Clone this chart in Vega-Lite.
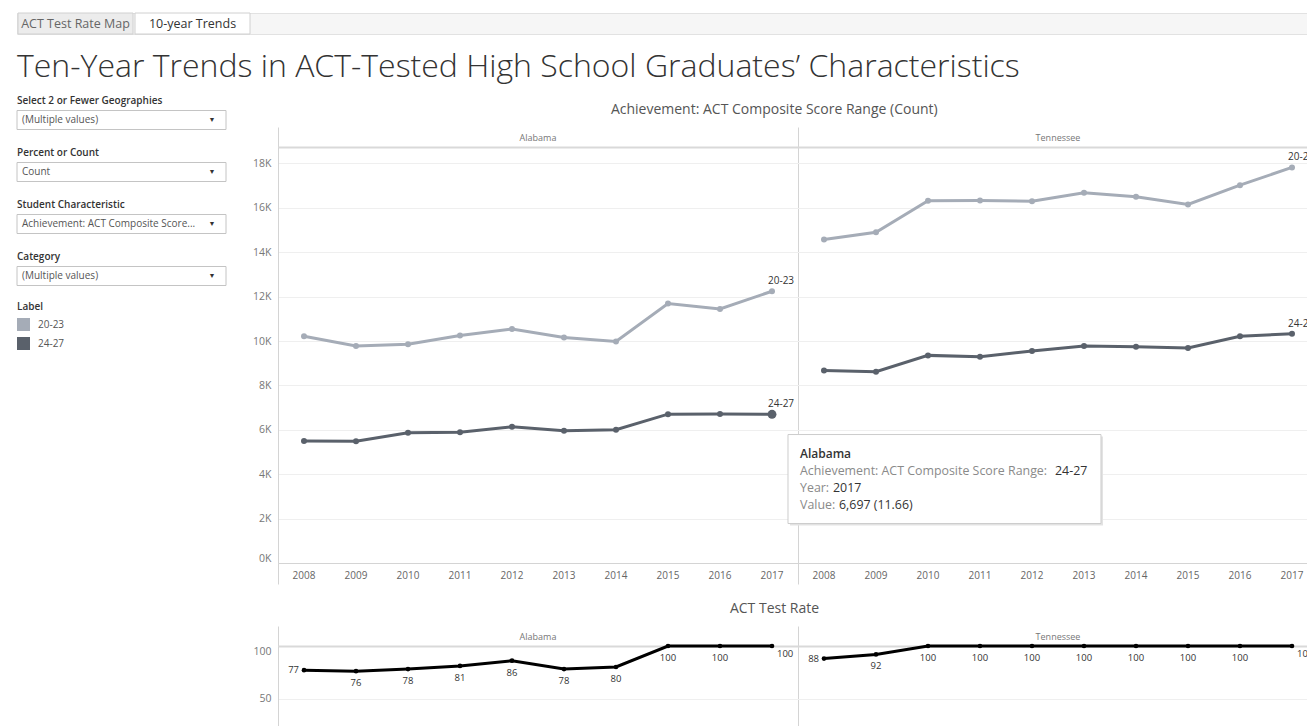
{
  "$schema": "https://vega.github.io/schema/vega-lite/v6.json",
  "background": "white",
  "padding": {"left": 16, "top": 12, "right": 0, "bottom": 0},
  "config": {
    "font": "Open Sans",
    "view": {"stroke": null}
  },
  "datasets": {
    "tabs": [{"tab": "ACT Test Rate Map"}, {"tab": "10-year Trends"}],
    "controls": [
      {"name": "Select 2 or Fewer Geographies", "value": "(Multiple values)"},
      {"name": "Percent or Count", "value": "Count"},
      {"name": "Student Characteristic", "value": "Achievement: ACT Composite Score..."},
      {"name": "Category", "value": "(Multiple values)"}
    ],
    "counts": [
      {"state": "Alabama", "year": 2008, "label": "20-23", "value": 10215},
      {"state": "Alabama", "year": 2009, "label": "20-23", "value": 9780},
      {"state": "Alabama", "year": 2010, "label": "20-23", "value": 9855},
      {"state": "Alabama", "year": 2011, "label": "20-23", "value": 10245},
      {"state": "Alabama", "year": 2012, "label": "20-23", "value": 10545},
      {"state": "Alabama", "year": 2013, "label": "20-23", "value": 10155},
      {"state": "Alabama", "year": 2014, "label": "20-23", "value": 9975},
      {"state": "Alabama", "year": 2015, "label": "20-23", "value": 11685},
      {"state": "Alabama", "year": 2016, "label": "20-23", "value": 11445},
      {"state": "Alabama", "year": 2017, "label": "20-23", "value": 12240},
      {"state": "Alabama", "year": 2008, "label": "24-27", "value": 5496},
      {"state": "Alabama", "year": 2009, "label": "24-27", "value": 5482},
      {"state": "Alabama", "year": 2010, "label": "24-27", "value": 5865},
      {"state": "Alabama", "year": 2011, "label": "24-27", "value": 5895},
      {"state": "Alabama", "year": 2012, "label": "24-27", "value": 6135},
      {"state": "Alabama", "year": 2013, "label": "24-27", "value": 5955},
      {"state": "Alabama", "year": 2014, "label": "24-27", "value": 6000},
      {"state": "Alabama", "year": 2015, "label": "24-27", "value": 6705},
      {"state": "Alabama", "year": 2016, "label": "24-27", "value": 6710},
      {"state": "Alabama", "year": 2017, "label": "24-27", "value": 6697},
      {"state": "Tennessee", "year": 2008, "label": "20-23", "value": 14571},
      {"state": "Tennessee", "year": 2009, "label": "20-23", "value": 14902},
      {"state": "Tennessee", "year": 2010, "label": "20-23", "value": 16316},
      {"state": "Tennessee", "year": 2011, "label": "20-23", "value": 16330},
      {"state": "Tennessee", "year": 2012, "label": "20-23", "value": 16300},
      {"state": "Tennessee", "year": 2013, "label": "20-23", "value": 16676},
      {"state": "Tennessee", "year": 2014, "label": "20-23", "value": 16496},
      {"state": "Tennessee", "year": 2015, "label": "20-23", "value": 16150},
      {"state": "Tennessee", "year": 2016, "label": "20-23", "value": 17022},
      {"state": "Tennessee", "year": 2017, "label": "20-23", "value": 17820},
      {"state": "Tennessee", "year": 2008, "label": "24-27", "value": 8676},
      {"state": "Tennessee", "year": 2009, "label": "24-27", "value": 8616},
      {"state": "Tennessee", "year": 2010, "label": "24-27", "value": 9353},
      {"state": "Tennessee", "year": 2011, "label": "24-27", "value": 9293},
      {"state": "Tennessee", "year": 2012, "label": "24-27", "value": 9549},
      {"state": "Tennessee", "year": 2013, "label": "24-27", "value": 9774},
      {"state": "Tennessee", "year": 2014, "label": "24-27", "value": 9744},
      {"state": "Tennessee", "year": 2015, "label": "24-27", "value": 9684},
      {"state": "Tennessee", "year": 2016, "label": "24-27", "value": 10211},
      {"state": "Tennessee", "year": 2017, "label": "24-27", "value": 10331}
    ],
    "rate": [
      {"state": "Alabama", "year": 2008, "rate": 77},
      {"state": "Alabama", "year": 2009, "rate": 76},
      {"state": "Alabama", "year": 2010, "rate": 78},
      {"state": "Alabama", "year": 2011, "rate": 81},
      {"state": "Alabama", "year": 2012, "rate": 86},
      {"state": "Alabama", "year": 2013, "rate": 78},
      {"state": "Alabama", "year": 2014, "rate": 80},
      {"state": "Alabama", "year": 2015, "rate": 100},
      {"state": "Alabama", "year": 2016, "rate": 100},
      {"state": "Alabama", "year": 2017, "rate": 100},
      {"state": "Tennessee", "year": 2008, "rate": 88},
      {"state": "Tennessee", "year": 2009, "rate": 92},
      {"state": "Tennessee", "year": 2010, "rate": 100},
      {"state": "Tennessee", "year": 2011, "rate": 100},
      {"state": "Tennessee", "year": 2012, "rate": 100},
      {"state": "Tennessee", "year": 2013, "rate": 100},
      {"state": "Tennessee", "year": 2014, "rate": 100},
      {"state": "Tennessee", "year": 2015, "rate": 100},
      {"state": "Tennessee", "year": 2016, "rate": 100},
      {"state": "Tennessee", "year": 2017, "rate": 100}
    ],
    "tip": [
      {"state": "Alabama", "year": 2017, "label": "24-27", "value": 6697, "valueText": "6,697 (11.66)"}
    ]
  },
  "spacing": 15,
  "vconcat": [
    {
      "data": {"name": "tabs"},
      "width": 1291,
      "height": 21,
      "view": {"fill": "#f6f6f6", "stroke": "#e2e2e2"},
      "encoding": {
        "x": {"field": "tab", "type": "nominal", "sort": null, "axis": null,
              "scale": {"type": "band", "range": [1, 233], "paddingInner": 0.0172, "paddingOuter": 0}}
      },
      "layer": [
        {
          "mark": {"type": "rect", "stroke": "#d0d0d0", "strokeWidth": 1},
          "encoding": {
            "fill": {"condition": {"test": "datum.tab === '10-year Trends'", "value": "#ffffff"}, "value": "#ececec"}
          }
        },
        {
          "mark": {"type": "text", "fontSize": 12.5},
          "encoding": {
            "text": {"field": "tab"},
            "color": {"condition": {"test": "datum.tab === '10-year Trends'", "value": "#333333"}, "value": "#666666"}
          }
        }
      ]
    },
    {
      "title": {"text": "Ten-Year Trends in ACT-Tested High School Graduates’ Characteristics", "anchor": "start", "fontSize": 32, "fontWeight": 300, "color": "#333333", "offset": 12.5, "frame": "group"},
      "spacing": 25,
      "hconcat": [
        {
          "width": 209,
          "height": 208,
          "layer": [
            {
              "data": {"name": "controls"},
              "mark": {"type": "bar", "fill": "#ffffff", "stroke": "#c4c4c4", "strokeWidth": 1, "height": {"band": 0.365}, "yOffset": -53},
              "encoding": {
                "y": {"field": "name", "type": "nominal", "sort": null, "axis": null,
                      "scale": {"type": "band", "paddingInner": 0, "paddingOuter": 0}},
                "x": {"datum": 0, "type": "quantitative", "axis": null, "scale": {"domain": [0, 1], "nice": false, "zero": false}},
                "x2": {"datum": 1}
              }
            },
            {
              "data": {"name": "controls"},
              "mark": {"type": "text", "align": "left", "baseline": "top", "dy": -51, "fontSize": 10, "fontWeight": 600, "color": "#333333"},
              "encoding": {
                "y": {"field": "name", "type": "nominal", "sort": null, "axis": null, "bandPosition": 0},
                "x": {"datum": 0, "type": "quantitative", "axis": null},
                "text": {"field": "name"}
              }
            },
            {
              "data": {"name": "controls"},
              "mark": {"type": "text", "align": "left", "baseline": "middle", "dx": 5, "dy": -53, "fontSize": 10, "color": "#555555"},
              "encoding": {
                "y": {"field": "name", "type": "nominal", "sort": null, "axis": null},
                "x": {"datum": 0, "type": "quantitative", "axis": null},
                "text": {"field": "value"}
              }
            },
            {
              "data": {"name": "controls"},
              "mark": {"type": "text", "align": "center", "baseline": "middle", "dx": -14, "dy": -53, "fontSize": 7, "color": "#333333", "text": "▼"},
              "encoding": {
                "y": {"field": "name", "type": "nominal", "sort": null, "axis": null},
                "x": {"datum": 1, "type": "quantitative", "axis": null}
              }
            },
            {
              "data": {"name": "counts"},
              "mark": {"type": "square", "opacity": 0},
              "encoding": {
                "color": {"field": "label", "type": "nominal",
                  "scale": {"domain": ["20-23", "24-27"], "range": ["#a5acb7", "#5a616b"]},
                  "legend": {"title": "Label", "orient": "none", "legendX": 0, "legendY": 289,
                    "symbolType": "square", "symbolSize": 169, "symbolOpacity": 1, "symbolStrokeWidth": 0,
                    "titleFontSize": 10, "titleFontWeight": 600, "titleColor": "#333333", "titlePadding": 6,
                    "labelFontSize": 10, "labelColor": "#555555", "labelOffset": 8, "rowPadding": 6, "padding": 0}}
              }
            }
          ]
        },
        {
          "spacing": 16,
          "vconcat": [
            {
              "title": {"text": "Achievement: ACT Composite Score Range (Count)", "fontSize": 14, "fontWeight": "normal", "color": "#555555", "anchor": "middle", "frame": "bounds", "offset": 10, "dx": -11},
              "width": 1040,
              "height": 416,
              "resolve": {"axis": {"x": "independent"}},
              "layer": [
                {
                  "data": {"name": "counts"},
                  "mark": {"type": "line", "strokeWidth": 3},
                  "encoding": {
                    "x": {"field": "state", "type": "nominal", "title": null,
                          "scale": {"type": "band", "paddingInner": 0, "paddingOuter": 0},
                          "axis": {"orient": "top", "title": null, "labelFontSize": 9, "labelColor": "#777777", "labelAngle": 0, "labelPadding": -15,
                                   "ticks": true, "tickSize": 20, "tickColor": "#d4d4d4", "bandPosition": 0,
                                   "domain": true, "domainColor": "#d9d9d9", "domainWidth": 2,
                                   "grid": true, "gridColor": "#d4d4d4"}},
                    "xOffset": {"field": "year", "type": "ordinal", "scale": {"type": "band", "paddingInner": 0, "paddingOuter": 0}},
                    "y": {"field": "value", "type": "quantitative", "scale": {"domain": [0, 18740], "nice": false},
                          "axis": {"title": null, "values": [0, 2000, 4000, 6000, 8000, 10000, 12000, 14000, 16000, 18000],
                                   "labelExpr": "datum.value / 1000 + 'K'", "ticks": false, "labelFontSize": 10.5, "labelColor": "#777777",
                                   "labelPadding": 7, "labelFlush": true, "domain": true, "domainColor": "#d4d4d4", "grid": true, "gridColor": "#efefef"}},
                    "color": {"field": "label", "type": "nominal", "scale": {"domain": ["20-23", "24-27"], "range": ["#a5acb7", "#5a616b"]}, "legend": null},
                    "detail": {"field": "state"},
                    "order": {"field": "year"}
                  }
                },
                {
                  "data": {"name": "counts"},
                  "mark": {"type": "point", "filled": true, "size": 36, "opacity": 1},
                  "encoding": {
                    "x": {"field": "state", "type": "nominal", "axis": null},
                    "xOffset": {"field": "year", "type": "ordinal"},
                    "y": {"field": "value", "type": "quantitative"},
                    "color": {"field": "label", "type": "nominal", "scale": {"domain": ["20-23", "24-27"], "range": ["#a5acb7", "#5a616b"]}, "legend": null}
                  }
                },
                {
                  "data": {"name": "counts"},
                  "transform": [{"filter": "datum.year == 2017"}],
                  "mark": {"type": "text", "align": "left", "baseline": "middle", "dx": -4, "dy": -10, "fontSize": 10, "color": "#333333"},
                  "encoding": {
                    "x": {"field": "state", "type": "nominal", "axis": null},
                    "xOffset": {"field": "year", "type": "ordinal"},
                    "y": {"field": "value", "type": "quantitative"},
                    "text": {"field": "label"}
                  }
                },
                {
                  "data": {"name": "counts"},
                  "transform": [{"filter": "datum.label == '20-23'"}],
                  "mark": {"type": "text", "baseline": "middle", "dy": 13, "fontSize": 10, "color": "#666666"},
                  "encoding": {
                    "x": {"field": "state", "type": "nominal",
                          "axis": {"orient": "bottom", "title": null, "labels": false, "ticks": true, "tickSize": 21, "tickColor": "#d4d4d4",
                                   "bandPosition": 0, "domain": true, "domainColor": "#d4d4d4", "grid": false}},
                    "xOffset": {"field": "year", "type": "ordinal"},
                    "y": {"datum": 0, "type": "quantitative"},
                    "text": {"field": "year", "type": "nominal"}
                  }
                },
                {
                  "data": {"name": "tip"},
                  "mark": {"type": "point", "filled": true, "size": 80, "opacity": 1, "color": "#5a616b"},
                  "encoding": {
                    "x": {"field": "state", "type": "nominal", "axis": null},
                    "xOffset": {"field": "year", "type": "ordinal"},
                    "y": {"field": "value", "type": "quantitative"}
                  }
                },
                {
                  "data": {"name": "tip"},
                  "mark": {"type": "point", "shape": "M0.1150,0.1419L2.1150,0.1419L2.1150,0.7106L0.1150,0.7106Z", "size": 97969, "filled": true, "fill": "#e3e3e3", "strokeWidth": 0, "opacity": 1},
                  "encoding": {
                    "x": {"field": "state", "type": "nominal", "axis": null},
                    "xOffset": {"field": "year", "type": "ordinal"},
                    "y": {"field": "value", "type": "quantitative"}
                  }
                },
                {
                  "data": {"name": "tip"},
                  "mark": {"type": "point", "shape": "M0.1022,0.1291L2.1022,0.1291L2.1022,0.6978L0.1022,0.6978Z", "size": 97969, "filled": true, "fill": "#ffffff", "stroke": "#cccccc", "strokeWidth": 1, "opacity": 1},
                  "encoding": {
                    "x": {"field": "state", "type": "nominal", "axis": null},
                    "xOffset": {"field": "year", "type": "ordinal"},
                    "y": {"field": "value", "type": "quantitative"}
                  }
                },
                {
                  "data": {"name": "tip"},
                  "mark": {"type": "text", "align": "left", "baseline": "middle", "dx": 28, "dy": 40, "fontSize": 12, "fontWeight": 600, "color": "#333333"},
                  "encoding": {
                    "x": {"field": "state", "type": "nominal", "axis": null},
                    "xOffset": {"field": "year", "type": "ordinal"},
                    "y": {"field": "value", "type": "quantitative"},
                    "text": {"field": "state"}
                  }
                },
                {
                  "data": {"name": "tip"},
                  "mark": {"type": "text", "align": "left", "baseline": "middle", "dx": 28, "dy": 57, "fontSize": 12.4, "color": "#8a8a8a", "text": "Achievement: ACT Composite Score Range:"},
                  "encoding": {
                    "x": {"field": "state", "type": "nominal", "axis": null},
                    "xOffset": {"field": "year", "type": "ordinal"},
                    "y": {"field": "value", "type": "quantitative"}
                  }
                },
                {
                  "data": {"name": "tip"},
                  "mark": {"type": "text", "align": "left", "baseline": "middle", "dx": 283, "dy": 57, "fontSize": 12.4, "color": "#333333"},
                  "encoding": {
                    "x": {"field": "state", "type": "nominal", "axis": null},
                    "xOffset": {"field": "year", "type": "ordinal"},
                    "y": {"field": "value", "type": "quantitative"},
                    "text": {"field": "label"}
                  }
                },
                {
                  "data": {"name": "tip"},
                  "mark": {"type": "text", "align": "left", "baseline": "middle", "dx": 28, "dy": 74, "fontSize": 12.4, "color": "#8a8a8a", "text": "Year:"},
                  "encoding": {
                    "x": {"field": "state", "type": "nominal", "axis": null},
                    "xOffset": {"field": "year", "type": "ordinal"},
                    "y": {"field": "value", "type": "quantitative"}
                  }
                },
                {
                  "data": {"name": "tip"},
                  "mark": {"type": "text", "align": "left", "baseline": "middle", "dx": 61, "dy": 74, "fontSize": 12.4, "color": "#333333"},
                  "encoding": {
                    "x": {"field": "state", "type": "nominal", "axis": null},
                    "xOffset": {"field": "year", "type": "ordinal"},
                    "y": {"field": "value", "type": "quantitative"},
                    "text": {"field": "year", "type": "nominal"}
                  }
                },
                {
                  "data": {"name": "tip"},
                  "mark": {"type": "text", "align": "left", "baseline": "middle", "dx": 28, "dy": 91, "fontSize": 12.4, "color": "#8a8a8a", "text": "Value:"},
                  "encoding": {
                    "x": {"field": "state", "type": "nominal", "axis": null},
                    "xOffset": {"field": "year", "type": "ordinal"},
                    "y": {"field": "value", "type": "quantitative"}
                  }
                },
                {
                  "data": {"name": "tip"},
                  "mark": {"type": "text", "align": "left", "baseline": "middle", "dx": 67, "dy": 91, "fontSize": 12.4, "color": "#333333"},
                  "encoding": {
                    "x": {"field": "state", "type": "nominal", "axis": null},
                    "xOffset": {"field": "year", "type": "ordinal"},
                    "y": {"field": "value", "type": "quantitative"},
                    "text": {"field": "valueText"}
                  }
                }
              ]
            },
            {
              "title": {"text": "ACT Test Rate", "fontSize": 14, "fontWeight": "normal", "color": "#555555", "anchor": "middle", "frame": "bounds", "offset": 10, "dx": -11},
              "width": 1040,
              "height": 105,
              "data": {"name": "rate"},
              "encoding": {
                "x": {"field": "state", "type": "nominal", "title": null,
                      "scale": {"type": "band", "paddingInner": 0, "paddingOuter": 0},
                      "axis": {"orient": "top", "title": null, "labelFontSize": 9, "labelColor": "#777777", "labelAngle": 0, "labelPadding": -15,
                               "ticks": true, "tickSize": 20, "tickColor": "#d4d4d4", "bandPosition": 0,
                               "domain": true, "domainColor": "#d9d9d9", "domainWidth": 2,
                               "grid": true, "gridColor": "#d4d4d4"}},
                "xOffset": {"field": "year", "type": "ordinal", "scale": {"type": "band", "paddingInner": 0, "paddingOuter": 0}},
                "y": {"field": "rate", "type": "quantitative", "scale": {"domain": [0, 100], "nice": false},
                      "axis": {"title": null, "values": [0, 50, 100], "ticks": false, "labelFontSize": 10.5, "labelColor": "#777777",
                               "labelPadding": 7, "labelFlush": true, "domain": true, "domainColor": "#d4d4d4", "grid": true, "gridColor": "#efefef"}}
              },
              "layer": [
                {"mark": {"type": "line", "color": "#000000", "strokeWidth": 3}, "encoding": {"detail": {"field": "state"}, "order": {"field": "year"}}},
                {"mark": {"type": "point", "filled": true, "color": "#000000", "size": 22, "opacity": 1}},
                {"transform": [{"filter": "datum.year == 2008"}],
                 "mark": {"type": "text", "align": "right", "baseline": "middle", "dx": -5, "fontSize": 9.5, "color": "#333333"},
                 "encoding": {"text": {"field": "rate"}}},
                {"transform": [{"filter": "datum.year == 2017"}],
                 "mark": {"type": "text", "align": "left", "baseline": "middle", "dx": 5, "dy": 8, "fontSize": 9.5, "color": "#333333"},
                 "encoding": {"text": {"field": "rate"}}},
                {"transform": [{"filter": "datum.year != 2008 && datum.year != 2017"}],
                 "mark": {"type": "text", "align": "center", "baseline": "middle", "dy": 12, "fontSize": 9.5, "color": "#333333"},
                 "encoding": {"text": {"field": "rate"}}}
              ]
            }
          ]
        }
      ]
    }
  ]
}
